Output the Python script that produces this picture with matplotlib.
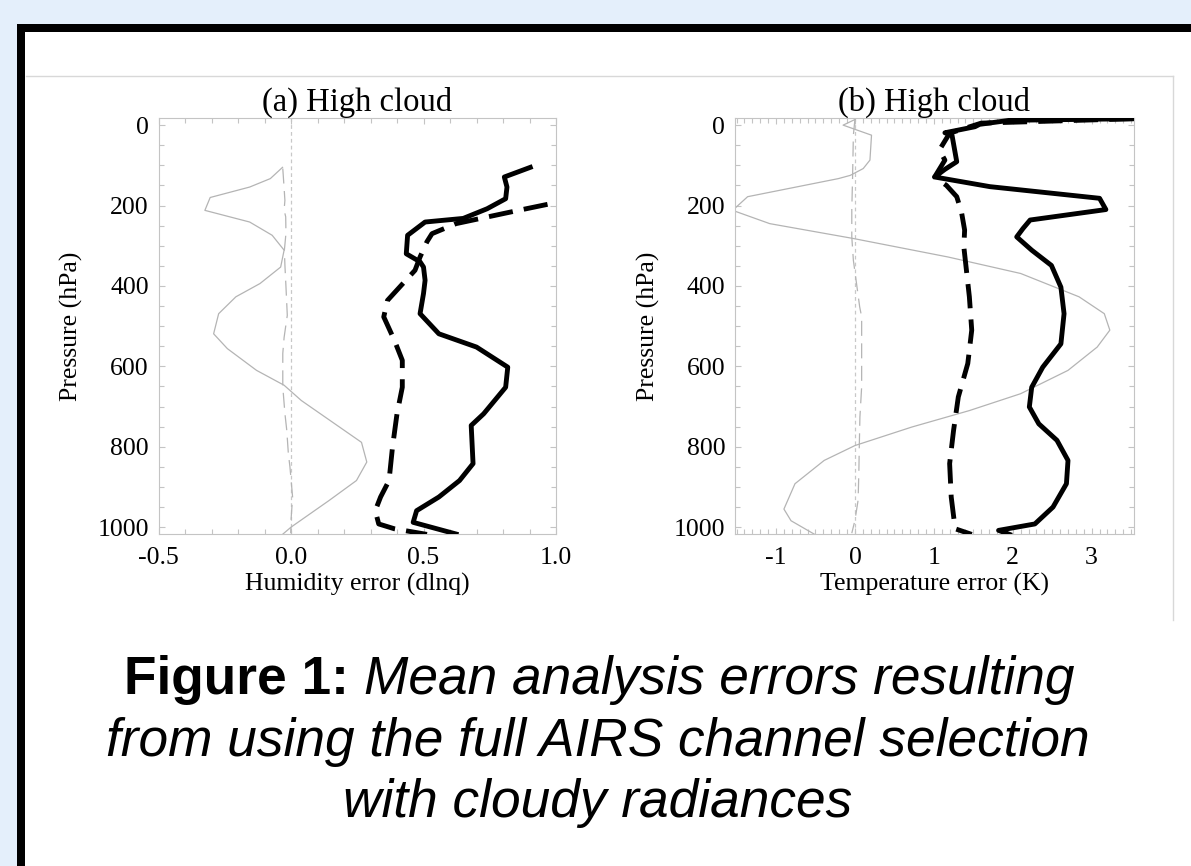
import numpy as np
import matplotlib
matplotlib.use("Agg")
import matplotlib.pyplot as plt
from matplotlib.patches import Rectangle
from matplotlib.lines import Line2D
from matplotlib.ticker import MultipleLocator

# ---- data (x = error, p = pressure in hPa) ----
# (a) humidity error (dlnq)
hum_solid_x = [0.903, 0.805, 0.815, 0.81, 0.74, 0.65, 0.506, 0.44, 0.435, 0.487, 0.50, 0.506,
               0.50, 0.487, 0.558, 0.70, 0.818, 0.81, 0.727, 0.68, 0.687, 0.636, 0.558, 0.474,
               0.461, 0.623]
hum_solid_p = [105, 129, 154, 183, 208, 232, 241, 274, 320, 340, 353, 386,
               419, 469, 519, 552, 602, 652, 718, 747, 842, 884, 925, 959,
               988, 1017]
hum_dash_x = [0.968, 0.851, 0.623, 0.532, 0.513, 0.487, 0.468, 0.364, 0.35, 0.39, 0.42, 0.42,
              0.40, 0.383, 0.37, 0.338, 0.318, 0.331, 0.39, 0.513]
hum_dash_p = [197, 213, 245, 270, 290, 328, 361, 436, 477, 535, 585, 652,
              718, 801, 884, 925, 959, 992, 1004, 1018]
hum_gray_x = [-0.032, -0.078, -0.156, -0.305, -0.325, -0.156, -0.071, -0.026, -0.039, -0.117,
              -0.208, -0.273, -0.292, -0.24, -0.13, -0.026, 0.039, 0.266, 0.286, 0.247, 0.143,
              0.0, -0.032]
hum_gray_p = [105, 133, 154, 180, 212, 241, 274, 311, 353, 394,
              427, 469, 519, 556, 610, 647, 685, 789, 838, 884, 934,
              1000, 1018]
hum_bias_x = [-0.031, -0.028, -0.023, -0.026, -0.02, -0.019, -0.025, -0.023, -0.019, -0.014,
              -0.026, -0.031, -0.031, -0.023, -0.016, -0.01, -0.004, 0.006, 0.0, -0.001]
hum_bias_p = [108, 137, 187, 211, 228, 269, 311, 348, 402, 473,
              528, 568, 651, 717, 759, 817, 850, 925, 983, 1015]

# (b) temperature error (K)
tmp_solid_x = [3.53, 1.96, 1.58, 1.52, 1.14, 1.23, 1.29, 1.14, 1.01, 1.71, 3.1, 3.18, 2.22,
               2.13, 2.05, 2.24, 2.49, 2.61, 2.65, 2.61, 2.38, 2.24, 2.21, 2.33, 2.56, 2.7,
               2.68, 2.51, 2.28, 1.82, 1.96]
tmp_solid_p = [-16, -12, -2, 4, 19, 25, 91, 110, 129, 153, 182, 210, 236,
               257, 278, 311, 349, 403, 469, 544, 602, 652, 701, 743, 784, 834,
               892, 950, 992, 1008, 1018]
tmp_dash_x = [3.53, 1.6, 1.2, 1.07, 1.14, 1.01, 1.16, 1.29, 1.35, 1.39, 1.38, 1.45, 1.48,
              1.43, 1.31, 1.25, 1.2, 1.22, 1.27, 1.48]
tmp_dash_p = [-16, -5, 20, 62, 87, 129, 150, 178, 216, 261, 303, 427, 510,
              593, 676, 759, 842, 925, 1004, 1018]
tmp_gray_x = [0.0, -0.15, 0.21, 0.19, 0.105, -0.06, -0.21, -1.36, -1.55, -1.08, -0.02, 1.18,
              2.1, 2.84, 3.16, 3.23, 3.07, 2.7, 2.1, 1.45, 0.72, 0.0, -0.39, -0.76, -0.9,
              -0.81, -0.51]
tmp_gray_p = [-14, 0, 25, 87, 108, 125, 133, 178, 212, 245, 282, 328,
              369, 427, 469, 510, 552, 610, 668, 710, 751, 797, 834, 892, 955,
              984, 1018]
tmp_bias_x = [0.0, -0.02, -0.03, -0.04, -0.04, -0.02, 0.02, 0.06, 0.085, 0.085, 0.085, 0.063,
              0.055, 0.05, 0.04, 0.0, -0.04]
tmp_bias_p = [-15, 25, 129, 211, 278, 336, 394, 452, 477, 543, 651, 726,
              800, 858, 933, 983, 1015]

p_ticks = [0, 200, 400, 600, 800, 1000]
hum_ticks = [-0.5, 0.0, 0.5, 1.0]
hum_labels = ["-0.5", "0.0", "0.5", "1.0"]
tmp_ticks = [-1, 0, 1, 2, 3]
tmp_labels = ["-1", "0", "1", "2", "3"]

caption_bold = "Figure 1:"
caption_lines = ["Mean analysis errors resulting",
                 "from using the full AIRS channel selection",
                 "with cloudy radiances"]

# ---- style ----
plt.rcParams.update({
    "font.family": ["Liberation Serif", "DejaVu Serif"],
    "axes.unicode_minus": False,
})

W, H = 1191, 866
fig = plt.figure(figsize=(W / 100, H / 100), dpi=100)
fig.patch.set_facecolor("#e4effb")


def fx(px):
    return px / W


def fy(py):
    return 1 - py / H


# black frame with white inside, running off the right and bottom edges
fig.add_artist(Rectangle((fx(17), -0.1), 1.2, fy(24) + 0.1, transform=fig.transFigure,
                         facecolor="black", edgecolor="none", zorder=0))
fig.add_artist(Rectangle((fx(25), -0.1), 1.2, fy(32) + 0.1, transform=fig.transFigure,
                         facecolor="white", edgecolor="none", zorder=0))
# faint border of the pasted figure
fig.add_artist(Line2D([fx(26), fx(1173)], [fy(76), fy(76)], transform=fig.transFigure,
                      color="#d8d8d8", lw=1.0))
fig.add_artist(Line2D([fx(1173), fx(1173)], [fy(76), fy(620)], transform=fig.transFigure,
                      color="#d8d8d8", lw=1.0))

spine_col = "#c4c4c4"
gray_col = "#b4b4b4"
lw_thick = 3.5


def style_axes(ax, xlim, xticks, xlabels, xminor, xlabel, title):
    ax.set_xlim(*xlim)
    ax.set_ylim(1017, -17)
    ax.set_xticks(xticks)
    ax.set_xticklabels(xlabels)
    ax.xaxis.set_minor_locator(MultipleLocator(xminor))
    ax.set_yticks(p_ticks)
    ax.set_yticklabels([str(p) for p in p_ticks])
    ax.yaxis.set_minor_locator(MultipleLocator(50))
    ax.tick_params(which="both", direction="in", top=True, right=True,
                   color=spine_col, width=0.8, labelsize=18.5, labelcolor="black")
    ax.tick_params(which="major", length=4)
    ax.tick_params(which="minor", length=3.5)
    ax.tick_params(axis="x", which="major", pad=9)
    ax.tick_params(axis="y", which="major", pad=7)
    for s in ax.spines.values():
        s.set_color(spine_col)
        s.set_linewidth(0.8)
    ax.set_xlabel(xlabel, fontsize=18.5, labelpad=3)
    ax.set_ylabel("Pressure (hPa)", fontsize=18.5, labelpad=10)
    ax.set_title(title, fontsize=23.5, pad=5)
    ax.axvline(0, color="#c8c8c8", lw=0.9, dashes=(3, 2.5), zorder=1)


ax1 = fig.add_axes([fx(158.5), fy(534), (556 - 158.5) / W, (534 - 118.3) / H])
style_axes(ax1, (-0.5, 1.0), hum_ticks, hum_labels, 0.1,
           "Humidity error (dlnq)", "(a) High cloud")
ax1.plot(hum_bias_x, hum_bias_p, color=gray_col, lw=0.9, dashes=(12, 6), zorder=2)
ax1.plot(hum_gray_x, hum_gray_p, color=gray_col, lw=0.9, zorder=2)
ax1.plot(hum_dash_x, hum_dash_p, color="black", lw=lw_thick, dashes=(5, 2.3), zorder=3)
ax1.plot(hum_solid_x, hum_solid_p, color="black", lw=lw_thick, zorder=4)

ax2 = fig.add_axes([fx(735), fy(534), (1133.5 - 735) / W, (534 - 118.3) / H])
style_axes(ax2, (-1.52, 3.53), tmp_ticks, tmp_labels, 0.1,
           "Temperature error (K)", "(b) High cloud")
ax2.plot(tmp_bias_x, tmp_bias_p, color=gray_col, lw=0.9, dashes=(12, 6), zorder=2)
ax2.plot(tmp_gray_x, tmp_gray_p, color=gray_col, lw=0.9, zorder=2)
ax2.plot(tmp_dash_x, tmp_dash_p, color="black", lw=lw_thick, dashes=(5, 2.3), zorder=3)
ax2.plot(tmp_solid_x, tmp_solid_p, color="black", lw=lw_thick, zorder=4)

# ---- caption: bold lead-in + italic text ----
cap_kw = dict(family=["Liberation Sans", "DejaVu Sans"], fontsize=38.3, va="center")
cx = fx(598)
line_y = [fy(680), fy(742), fy(803)]

renderer = fig.canvas.get_renderer()
t_bold = fig.text(0, line_y[0], caption_bold, fontweight="bold", ha="left", **cap_kw)
t_ital = fig.text(0, line_y[0], caption_lines[0], style="italic", ha="left", **cap_kw)
wb = t_bold.get_window_extent(renderer).width
wi = t_ital.get_window_extent(renderer).width
gap = 0.278 * 38.3 * 100 / 72
x0 = 599 - (wb + gap + wi) / 2
t_bold.set_x(fx(x0))
t_ital.set_x(fx(x0 + wb + gap))

for txt, y in zip(caption_lines[1:], line_y[1:]):
    fig.text(cx, y, txt, style="italic", ha="center", **cap_kw)

fig.savefig("out.png", dpi=100, facecolor=fig.get_facecolor())
